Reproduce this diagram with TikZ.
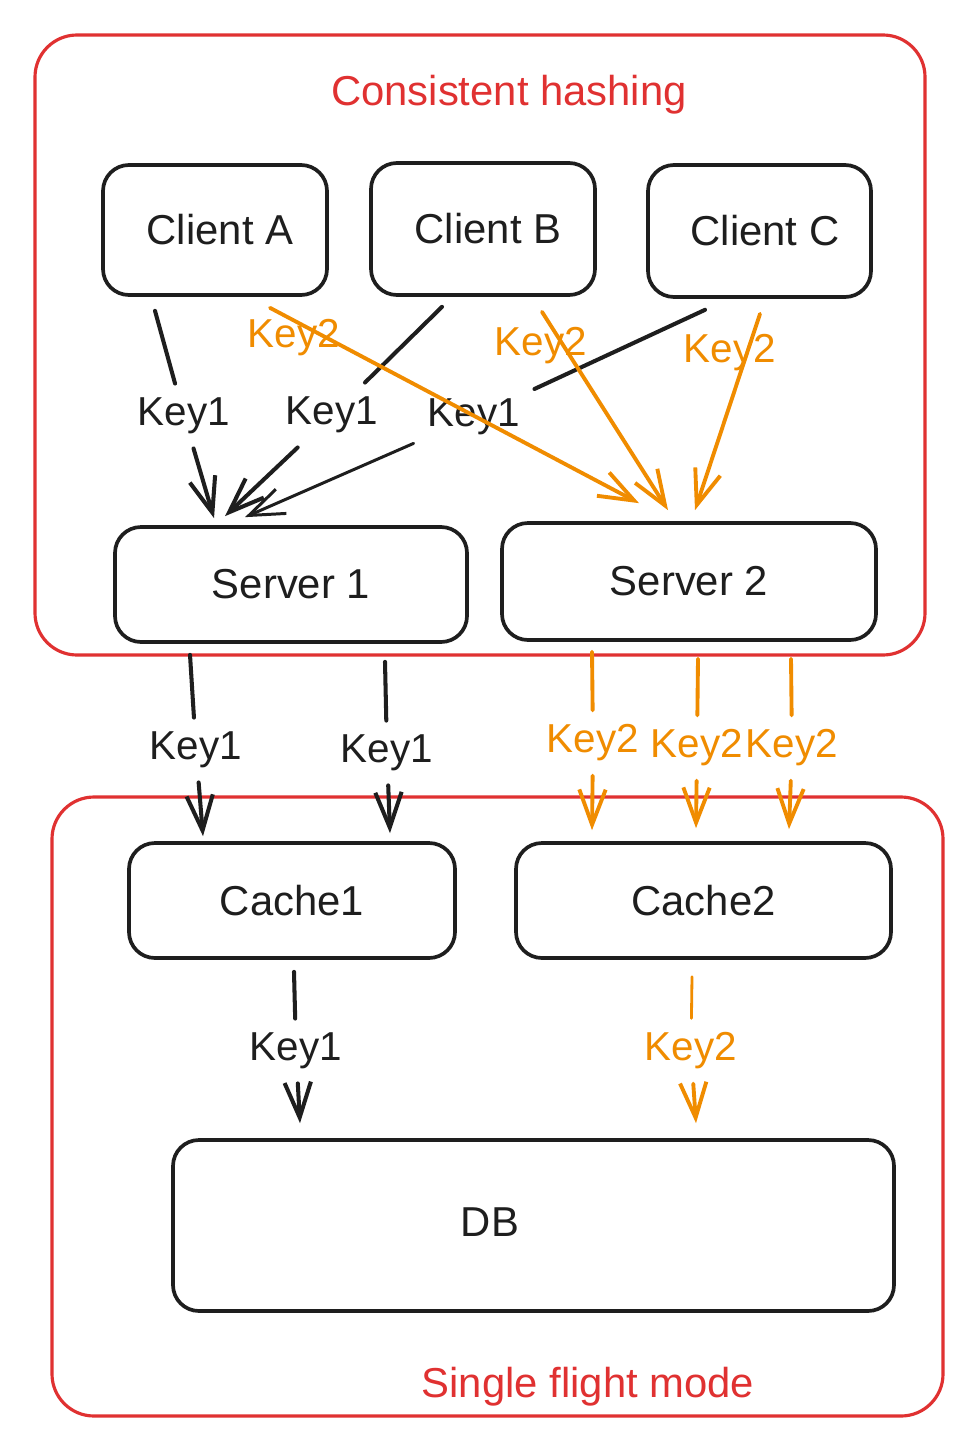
\documentclass[tikz,border=0pt]{standalone}
\usepackage{fontspec}
\setmainfont{Liberation Sans}
\usetikzlibrary{arrows.meta}
\newdimen\px \px=0.02cm
\definecolor{ink}{HTML}{1E1E1E}
\definecolor{exred}{HTML}{E03131}
\definecolor{exorange}{HTML}{F08C00}
\begin{document}
\begin{tikzpicture}[x=0.02cm,y=-0.02cm,
  every node/.style={font=\fontsize{23.8}{28}\selectfont},
  box/.style={draw=ink, line width=2.1pt, rounded corners=26\px, text=ink, inner sep=0pt},
  redframe/.style={draw=exred, line width=1.8pt, rounded corners=42\px, inner sep=0pt},
  frametitle/.style={text=exred},
  klbl/.style={inner sep=14\px, font=\fontsize{23}{27}\selectfont},
  kblack/.style={klbl, text=ink},
  korange/.style={klbl, text=exorange},
  cblack/.style={draw=ink, line width=2.3pt, line cap=round},
  corange/.style={draw=exorange, line width=2.2pt, line cap=round},
  arrowend/.style={-{Straight Barb[length=20pt,width=15pt]}},
]
\fill[white] (0,0) rectangle (968,1456);
\useasboundingbox (0,0) rectangle (968,1456);

% frames
\node[redframe, minimum width=890\px, minimum height=620\px] (topframe) at (480,345) {};
\node[redframe, minimum width=891\px, minimum height=619\px] (botframe) at (497.5,1106.5) {};
\node[frametitle] (t1) at (509,95) {Consistent hashing};
\node[frametitle] (t2) at (588,1387) {Single flight mode};

% boxes
\node[box, minimum width=224\px, minimum height=130\px] (ca) at (215,230) {\hspace*{10\px}Client A};
\node[box, minimum width=224\px, minimum height=132\px] (cb) at (483,229) {\hspace*{10\px}Client B};
\node[box, minimum width=223\px, minimum height=132\px] (cc) at (759.5,231) {\hspace*{11\px}Client C};
\node[box, minimum width=352\px, minimum height=115\px] (s1) at (291,584.5) {Server 1};
\node[box, minimum width=374\px, minimum height=117\px] (s2) at (689,581.5) {Server 2};
\node[box, minimum width=326\px, minimum height=115\px] (c1) at (292,900.5) {Cache1};
\node[box, minimum width=375\px, minimum height=115\px] (c2) at (703.5,900.5) {Cache2};
\node[box, minimum width=721\px, minimum height=171\px,
      label={[text=ink, xshift=-43.5\px, yshift=3\px]center:DB}] (db) at (533.5,1225.5) {};

% labels
\node[kblack] (k1a) at (184,416) {Key1};
\node[kblack] (k1b) at (332,415) {Key1};
\node[kblack] (k1c) at (474,417) {Key1};
\node[korange] (k2a) at (294,338) {Key2};
\node[korange] (k2b) at (541,346) {Key2};
\node[korange] (k2c) at (730,353) {Key2};
\node[kblack] (k1d) at (196,750) {Key1};
\node[kblack] (k1e) at (387,753) {Key1};
\node[korange] (k2d) at (593,743) {Key2};
\node[korange] (k2e) at (697,748) {Key2};
\node[korange] (k2f) at (792,748) {Key2};
\node[kblack] (k1f) at (296,1051) {Key1};
\node[korange] (k2g) at (691,1051) {Key2};

% clients -> server 1 (Key1)
\draw[cblack] ([shift={(-60,14)}]ca.south) -- (k1a);
\draw[cblack, arrowend] (k1a) -- ([shift={(-77,-7)}]s1.north);
\draw[cblack] ([shift={(-41,10)}]cb.south) -- (k1b);
\draw[cblack, arrowend] (k1b) -- ([shift={(-66,-9)}]s1.north);
\draw[cblack] ([shift={(-54.5,11)}]cc.south) -- (k1c);
\draw[cblack, line width=1.7pt, arrowend] (k1c) -- ([shift={(-46,-8)}]s1.north);

% clients -> server 2 (Key2)
\draw[corange, arrowend] ([shift={(55,11)}]ca.south) -- ([shift={(-50,-18)}]s2.north);
\draw[corange, arrowend] ([shift={(59,15)}]cb.south) -- ([shift={(-21,-11)}]s2.north);
\draw[corange, arrowend] ([shift={(0.5,15)}]cc.south) -- ([shift={(6,-11)}]s2.north);

% servers -> caches
\draw[cblack] ([shift={(-101,11)}]s1.south) -- (k1d);
\draw[cblack, arrowend] (k1d) -- ([shift={(-89,-5)}]c1.north);
\draw[cblack] ([shift={(94,18)}]s1.south) -- (k1e);
\draw[cblack, arrowend] (k1e) -- ([shift={(98,-8)}]c1.north);
\draw[corange] ([shift={(-97,10)}]s2.south) -- (k2d);
\draw[corange, arrowend] (k2d) -- ([shift={(-111.5,-11)}]c2.north);
\draw[corange] ([shift={(9,17)}]s2.south) -- (k2e);
\draw[corange, arrowend] (k2e) -- ([shift={(-7.5,-13)}]c2.north);
\draw[corange] ([shift={(102,17)}]s2.south) -- (k2f);
\draw[corange, arrowend] (k2f) -- ([shift={(85.5,-12)}]c2.north);

% caches -> DB
\draw[cblack] ([shift={(2,12)}]c1.south) -- (k1f);
\draw[cblack, arrowend] (k1f) -- ([shift={(-233.5,-15)}]db.north);
\draw[corange, line width=1.6pt] ([shift={(-11.5,17)}]c2.south) -- (k2g);
\draw[corange, arrowend] (k2g) -- ([shift={(162.5,-15)}]db.north);
\end{tikzpicture}
\end{document}
